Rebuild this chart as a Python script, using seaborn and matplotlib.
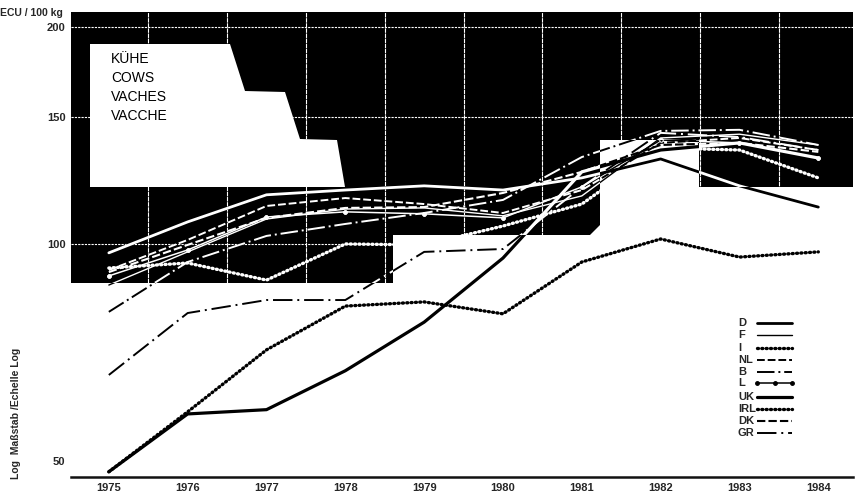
import pandas as pd
import matplotlib
matplotlib.use('Agg')
import matplotlib.pyplot as plt
import seaborn as sns
from matplotlib.lines import Line2D
from matplotlib.patches import PathPatch
from matplotlib.path import Path

# prices, ECU / 100 kg
years = [1975, 1976, 1977, 1978, 1979, 1980, 1981, 1982, 1983, 1984]
d_vals = [97.2, 107.3, 117.0, 118.8, 120.4, 118.8, 123.5, 131.2, 120.4, 112.5]
f_vals = [87.7, 97.5, 108.3, 111.8, 112.2, 109.4, 116.6, 140.3, 142.0, 137.2]
i_vals = [92.6, 94.1, 89.1, 100.0, 99.7, 105.9, 113.6, 135.9, 135.0, 123.5]
nl_vals = [92.0, 101.3, 112.9, 115.8, 113.6, 110.4, 118.8, 138.1, 140.3, 135.0]
b_vals = [80.5, 94.4, 102.6, 106.6, 110.4, 115.1, 132.0, 143.5, 144.0, 137.2]
l_vals = [90.3, 98.1, 109.0, 110.8, 110.1, 108.7, 120.0, 139.4, 138.1, 131.6]
uk_vals = [48.3, 58.1, 58.9, 66.7, 77.9, 95.6, 125.9, 135.0, 138.1, 131.6]
irl_vals = [48.3, 58.5, 71.3, 82.0, 83.1, 80.0, 94.4, 101.6, 95.9, 97.5]
dk_vals = [91.4, 99.7, 108.7, 112.2, 112.5, 117.7, 125.9, 137.2, 138.1, 134.2]
gr_vals = [65.8, 80.2, 83.6, 83.6, 97.5, 98.4, 120.0, 142.6, 140.7, 135.0]

y_ticks = [50, 100, 150, 200]
titles = ['KÜHE', 'COWS', 'VACHES', 'VACCHE']
countries = ['D', 'F', 'I', 'NL', 'B', 'L', 'UK', 'IRL', 'DK', 'GR']

df = pd.DataFrame({'year': years, 'D': d_vals, 'F': f_vals, 'I': i_vals, 'NL': nl_vals,
                   'B': b_vals, 'L': l_vals, 'UK': uk_vals, 'IRL': irl_vals,
                   'DK': dk_vals, 'GR': gr_vals})

dot = (0, (0.3, 1.0))
styles = {
    'D': dict(lw=2.0, linestyle='-'),
    'F': dict(lw=1.0, linestyle='-'),
    'I': dict(lw=2.4, linestyle=dot, dash_capstyle='round'),
    'NL': dict(lw=1.4, linestyle=(0, (4, 1.5))),
    'B': dict(lw=1.4, linestyle=(0, (9, 2, 1, 2))),
    'L': dict(lw=1.1, linestyle='-', marker='o', markersize=2.5),
    'UK': dict(lw=2.3, linestyle='-'),
    'IRL': dict(lw=2.4, linestyle=dot, dash_capstyle='round'),
    'DK': dict(lw=1.5, linestyle=(0, (4, 1.5))),
    'GR': dict(lw=1.4, linestyle=(0, (10, 2.5, 1, 2.5))),
}

sns.set_style('white')
plt.rcParams['font.family'] = ['Liberation Sans', 'DejaVu Sans']

W, H = 857, 496
L, R, T, B = 71, 853, 12, 477

fig = plt.figure(figsize=(W / 100, H / 100), dpi=100)
ax = fig.add_axes([L / W, 1 - B / H, (R - L) / W, (B - T) / H])
ax.set_yscale('log')
ax.set_xlim(1974.52, 1984.44)
ax.set_ylim(47.5, 209.8)


# pixel position in the picture -> axes fraction
def px(x, y):
    return (x - L) / (R - L), (B - y) / (B - T)


# black printed area with the white cut outs
outer = [(71, 12), (853, 12), (853, 187), (699, 187), (699, 140), (600, 140), (600, 225),
         (590, 235), (393, 235), (393, 283), (71, 283), (71, 12)]
inner = [(90, 44), (90, 187), (345, 187), (337, 140), (300, 139), (285, 92), (245, 91),
         (230, 44), (90, 44)]
verts = [px(*p) for p in outer] + [px(*p) for p in inner]
codes = ([Path.MOVETO] + [Path.LINETO] * (len(outer) - 2) + [Path.CLOSEPOLY]
         + [Path.MOVETO] + [Path.LINETO] * (len(inner) - 2) + [Path.CLOSEPOLY])
black = PathPatch(Path(verts, codes), transform=ax.transAxes, fc='black', ec='none', zorder=1)
ax.add_patch(black)

# white grid, only visible on the black area
for v in y_ticks[1:]:
    g = ax.axhline(v, color='white', lw=0.8, linestyle=(0, (2, 1)), zorder=2)
    g.set_clip_path(black)
for yr in years[:-1]:
    g = ax.axvline(yr + 0.5, color='white', lw=0.8, linestyle=(0, (4, 0.6)), zorder=2)
    g.set_clip_path(black)

# every line twice: black on the paper, white on the black area
for c in countries:
    if c != 'I':
        sns.lineplot(data=df, x='year', y=c, ax=ax, color='black', errorbar=None, zorder=3, **styles[c])
    sns.lineplot(data=df, x='year', y=c, ax=ax, color='white', errorbar=None, zorder=4, **styles[c])
    ax.lines[-1].set_clip_path(black)

ax.set_xlabel('')
ax.set_ylabel('')
ax.set_xticks(years)
ax.set_xticklabels(years, fontsize=8, fontweight='bold')
ax.set_yticks(y_ticks)
ax.set_yticklabels(y_ticks, fontsize=8, fontweight='bold')
ax.minorticks_off()
ax.tick_params(axis='both', length=0, pad=4)

for s in ['top', 'left', 'right']:
    ax.spines[s].set_visible(False)
ax.spines['bottom'].set_linewidth(1.8)
ax.spines['bottom'].set_color('#111111')

for lab, ypx in zip(titles, [59, 78, 97, 116]):
    x0, y0 = px(111, ypx)
    ax.text(x0, y0, lab, transform=ax.transAxes, fontsize=10, color='black', va='center', zorder=6)

fig.text(0, 1 - 13 / H, 'ECU / 100 kg', fontsize=7.5, fontweight='bold', va='center')
fig.text(16 / W, 1 - 413 / H, 'Log  Maßstab /Echelle Log', fontsize=7.5, fontweight='bold',
         rotation=90, va='center', ha='center')

# key drawn by hand, labels are flush left in the original
key_rows = [323, 335, 348, 360, 372, 383, 397, 409, 421, 433]
for c, ypx in zip(countries, key_rows):
    x0, y0 = px(738, ypx)
    ax.text(x0, y0, c, transform=ax.transAxes, fontsize=8, fontweight='bold', va='center', zorder=6)
    x1, _ = px(757, ypx)
    x2, _ = px(792, ypx)
    ax.add_line(Line2D([x1, (x1 + x2) / 2, x2], [y0, y0, y0], transform=ax.transAxes, color='black',
                       zorder=6, **styles[c]))

fig.savefig('out.png', dpi=100, facecolor='white')
